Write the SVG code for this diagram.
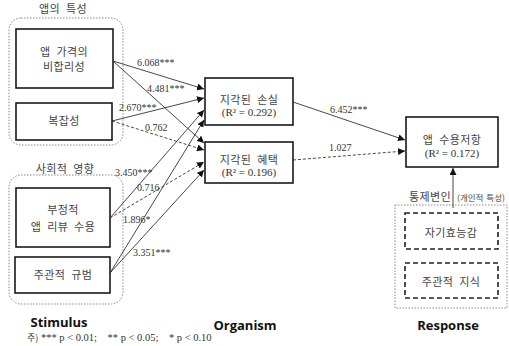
<svg xmlns="http://www.w3.org/2000/svg" width="509" height="346" viewBox="0 0 509 346">
<defs>
<marker id="ah" viewBox="0 0 10 10" refX="10" refY="5" markerWidth="7" markerHeight="7" orient="auto" markerUnits="userSpaceOnUse"><path d="M0,0 L10,5 L0,10 z" fill="#111"/></marker>
<style>
.kr{font-family:"Noto Sans CJK KR","Noto Sans",sans-serif;font-size:11px;fill:#444;text-anchor:middle;word-spacing:3px;letter-spacing:0.4px}
.num{font-family:"Liberation Serif",serif;font-size:10px;fill:#333}
.box{fill:#fff;stroke:#1a1a1a;stroke-width:1.6}
.grp{fill:none;stroke:#888;stroke-width:1;stroke-dasharray:1.5 1.5}
.dbox{fill:none;stroke:#222;stroke-width:1.6;stroke-dasharray:5 3}
.ln{stroke:#333;stroke-width:0.9;fill:none;marker-end:url(#ah)}
.dl{stroke:#333;stroke-width:0.9;fill:none;stroke-dasharray:3 2;marker-end:url(#ah)}
.hd{font-family:"Open Sans","Liberation Sans",sans-serif;font-size:13px;font-weight:bold;fill:#111;text-anchor:middle}
.r2{font-family:"Liberation Serif",serif;font-size:11px;fill:#333;text-anchor:middle}
</style>
</defs>
<rect width="509" height="346" fill="#fff"/>

<g id="group-app">
<rect class="grp" x="9" y="18" width="114" height="127" rx="12"/>
<text class="kr" x="63" y="13">앱의 특성</text>
</g>
<g id="group-social">
<rect class="grp" x="9" y="175" width="114" height="129" rx="12"/>
<text class="kr" x="65" y="173">사회적 영향</text>
</g>
<g id="group-control">
<rect class="grp" x="395" y="205" width="112" height="103"/>
<text class="kr" x="430" y="201">통제변인</text>
<text class="kr" x="481" y="201" style="font-size:8.5px;word-spacing:1px;letter-spacing:0">(개인적 특성)</text>
</g>

<g id="connectors">
<line class="ln" x1="113" y1="61" x2="204" y2="89"/>
<line class="ln" x1="113" y1="61" x2="204" y2="143"/>
<line class="ln" x1="112" y1="121" x2="204" y2="98"/>
<line class="dl" x1="112" y1="121" x2="204" y2="150"/>
<line class="ln" x1="110" y1="218" x2="204" y2="110"/>
<line class="dl" x1="110" y1="218" x2="204" y2="162"/>
<line class="ln" x1="110" y1="273" x2="204" y2="120"/>
<line class="ln" x1="110" y1="273" x2="204" y2="170"/>
<line class="ln" x1="293" y1="102" x2="405" y2="140"/>
<line class="dl" x1="293" y1="160" x2="405" y2="151"/>
<line class="ln" x1="453" y1="208" x2="453" y2="168"/>
<text class="num" x="137" y="66">6.068***</text>
<text class="num" x="147" y="92">4.481***</text>
<text class="num" x="119" y="111">2.670***</text>
<text class="num" x="145" y="131">0.762</text>
<text class="num" x="115" y="176">3.450***</text>
<text class="num" x="137" y="191">0.716</text>
<text class="num" x="123" y="223">1.896*</text>
<text class="num" x="133" y="256">3.351***</text>
<text class="num" x="330" y="113">6.452***</text>
<text class="num" x="329" y="151">1.027</text>
</g>

<g id="n-price">
<rect class="box" x="16" y="29" width="97" height="59"/>
<text class="kr" x="64" y="56">앱 가격의</text>
<text class="kr" x="64" y="71">비합리성</text>
</g>
<g id="n-complex">
<rect class="box" x="16" y="103" width="96" height="37"/>
<text class="kr" x="64" y="125">복잡성</text>
</g>
<g id="n-review">
<rect class="box" x="16" y="188" width="94" height="59"/>
<text class="kr" x="63" y="214">부정적</text>
<text class="kr" x="63" y="231">앱 리뷰 수용</text>
</g>
<g id="n-norm">
<rect class="box" x="15" y="257" width="95" height="36"/>
<text class="kr" x="63" y="279">주관적 규범</text>
</g>
<g id="n-loss">
<rect class="box" x="205" y="78" width="88" height="47"/>
<text class="kr" x="249" y="104">지각된 손실</text>
<text class="r2" x="249" y="116">(R² = 0.292)</text>
</g>
<g id="n-benefit">
<rect class="box" x="205" y="142" width="88" height="41"/>
<text class="kr" x="249" y="164">지각된 혜택</text>
<text class="r2" x="249" y="176">(R² = 0.196)</text>
</g>
<g id="n-resist">
<rect class="box" x="406" y="117" width="92" height="50"/>
<text class="kr" x="452" y="144">앱 수용저항</text>
<text class="r2" x="452" y="157">(R² = 0.172)</text>
</g>
<g id="n-efficacy">
<rect class="dbox" x="405" y="213" width="93" height="36"/>
<text class="kr" x="451" y="237">자기효능감</text>
</g>
<g id="n-knowledge">
<rect class="dbox" x="405" y="263" width="93" height="35"/>
<text class="kr" x="451" y="286">주관적 지식</text>
</g>

<g id="labels">
<text class="hd" x="59" y="327">Stimulus</text>
<text class="hd" x="245" y="330">Organism</text>
<text class="hd" x="448" y="330">Response</text>
<text x="27" y="341" style="font-family:'Liberation Serif','Noto Sans CJK KR',serif;font-size:10.5px;fill:#333" xml:space="preserve"><tspan style="font-family:'Noto Sans CJK KR',sans-serif;font-size:9px">주)</tspan> *** p &lt; 0.01;    ** p &lt; 0.05;    * p &lt; 0.10</text>
</g>
</svg>
